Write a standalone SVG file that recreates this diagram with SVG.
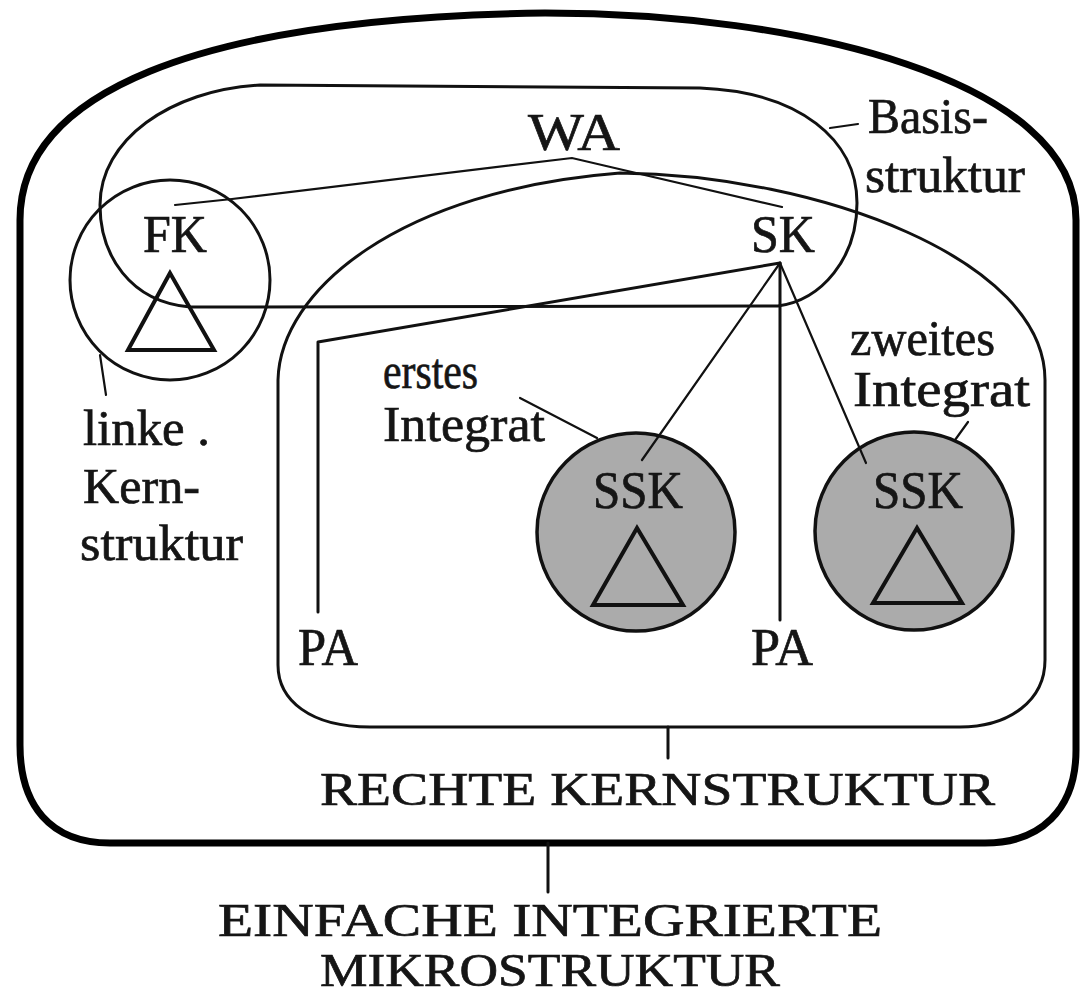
<svg xmlns="http://www.w3.org/2000/svg" width="1089" height="996" viewBox="0 0 1089 996">
<style>
.ln{fill:none;stroke:#111;stroke-width:3;stroke-linejoin:round;stroke-linecap:round}
.thin{fill:none;stroke:#111;stroke-width:2.2;stroke-linecap:round}
.thick{fill:none;stroke:#000;stroke-width:7;stroke-linejoin:round}
.ssk{fill:#ababab;stroke:#111;stroke-width:3.5}
.tri{fill:none;stroke:#111;stroke-width:4;stroke-linejoin:miter}
text{font-family:"Liberation Serif","Times New Roman",serif;fill:#151515;stroke:#151515;stroke-width:0.7;font-size:48px}
.big{font-size:52px}
.lc{font-size:50px}
.cap{font-size:47px}
</style>
<rect width="1089" height="996" fill="#ffffff"/>
<g id="einfache-integrierte-mikrostruktur">
<path class="thick" d="M20,745 V220 C20,95 190,18 545,13 C800,13 1076,80 1076,220 V750 C1076,810 1040,843 985,843 H110 C50,843 20,805 20,745 Z"/>
<text class="cap" x="218" y="936" textLength="664" lengthAdjust="spacingAndGlyphs">EINFACHE INTEGRIERTE</text>
<text class="cap" x="320" y="986" textLength="460" lengthAdjust="spacingAndGlyphs">MIKROSTRUKTUR</text>
</g>
<g id="rechte-kernstruktur">
<path class="ln" d="M278,665 V380 C280,290 400,190 620,173 C820,175 1045,260 1045,380 V660 C1045,700 1010,727 960,727 H370 C310,727 278,700 278,665 Z"/>
<text class="cap" x="320" y="805" textLength="675" lengthAdjust="spacingAndGlyphs">RECHTE KERNSTRUKTUR</text>
</g>
<g id="basisstruktur">
<path class="ln" d="M260,85 L700,88 C800,92 857,140 857,203 C857,258 822,300 778,306 L190,307 C130,302 100,255 100,205 C100,140 170,90 260,85 Z"/>
<text class="lc" x="868" y="133" textLength="120" lengthAdjust="spacingAndGlyphs">Basis-</text>
<text class="lc" x="865" y="192" textLength="160" lengthAdjust="spacingAndGlyphs">struktur</text>
</g>
<g id="linke-kernstruktur">
<circle class="ln" cx="170" cy="280" r="100"/>
<polygon class="tri" points="170,273 128,350 214,350"/>
<text class="big" x="143" y="252" textLength="64" lengthAdjust="spacingAndGlyphs">FK</text>
<text class="lc" x="83" y="445" textLength="127" lengthAdjust="spacingAndGlyphs">linke .</text>
<text class="lc" x="83" y="503" textLength="117" lengthAdjust="spacingAndGlyphs">Kern-</text>
<text class="lc" x="80" y="560" textLength="163" lengthAdjust="spacingAndGlyphs">struktur</text>
</g>
<g id="sk">
<text class="big" x="751" y="252" textLength="64" lengthAdjust="spacingAndGlyphs">SK</text>
</g>
<g id="wa">
<text class="big" x="528" y="150" textLength="92" lengthAdjust="spacingAndGlyphs">WA</text>
</g>
<g id="ssk-erstes-integrat">
<circle class="ssk" cx="636" cy="532" r="99"/>
<polygon class="tri" points="637,528 593,605 683,605"/>
<text class="big" x="593" y="508" textLength="90" lengthAdjust="spacingAndGlyphs">SSK</text>
<text class="lc" x="383" y="388" textLength="95" lengthAdjust="spacingAndGlyphs">erstes</text>
<text class="lc" x="383" y="441" textLength="162" lengthAdjust="spacingAndGlyphs">Integrat</text>
</g>
<g id="ssk-zweites-integrat">
<circle class="ssk" cx="914" cy="531" r="99"/>
<polygon class="tri" points="917,528 873,603 962,603"/>
<text class="big" x="873" y="508" textLength="90" lengthAdjust="spacingAndGlyphs">SSK</text>
<text class="lc" x="850" y="355" textLength="145" lengthAdjust="spacingAndGlyphs">zweites</text>
<text class="lc" x="853" y="406" textLength="177" lengthAdjust="spacingAndGlyphs">Integrat</text>
</g>
<g id="pa-links">
<text class="big" x="298" y="665" textLength="60" lengthAdjust="spacingAndGlyphs">PA</text>
</g>
<g id="pa-rechts">
<text class="big" x="751" y="665" textLength="62" lengthAdjust="spacingAndGlyphs">PA</text>
</g>
<g id="connectors">
<polyline class="thin" points="175,205 232,199 572,158 782,207"/>
<polyline class="ln" points="318,612 318,342 780,263"/>
<line class="ln" x1="780" y1="263" x2="780" y2="620"/>
<line class="thin" x1="780" y1="263" x2="642" y2="460"/>
<line class="thin" x1="780" y1="263" x2="866" y2="463"/>
<line class="thin" x1="830" y1="128" x2="858" y2="124"/>
<line class="thin" x1="520" y1="398" x2="597" y2="438"/>
<line class="thin" x1="968" y1="422" x2="955" y2="440"/>
<line class="thin" x1="100" y1="355" x2="106" y2="395"/>
<line class="ln" x1="668" y1="727" x2="668" y2="758"/>
<line class="ln" x1="548" y1="843" x2="548" y2="892"/>
</g>
</svg>
